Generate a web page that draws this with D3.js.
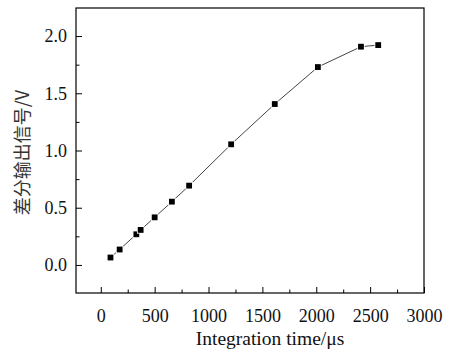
<!DOCTYPE html>
<html>
<head>
<meta charset="utf-8">
<script src="https://cdn.jsdelivr.net/npm/d3@7"></script>
<style>
  body { margin: 0; background: #fff; }
  svg text { font-family: "Liberation Serif", "Times New Roman", serif; fill: #111; }
</style>
</head>
<body>
<svg width="454" height="354"></svg>
<script>
// Data
const timeUs = [90, 175, 330, 370, 500, 660, 820, 1210, 1615, 2015, 2415, 2575];
const signalV = [0.065, 0.135, 0.268, 0.306, 0.416, 0.553, 0.693, 1.054, 1.406, 1.729, 1.907, 1.921];
const xTicks = [0, 500, 1000, 1500, 2000, 2500, 3000];
const yTicks = [0.0, 0.5, 1.0, 1.5, 2.0];

const svg = d3.select("svg");
const margin = { left: 76, right: 30, top: 8, bottom: 61 };
const W = 454, H = 354;

const x = d3.scaleLinear().domain([-230, 3000]).range([margin.left, W - margin.right]);
const y = d3.scaleLinear().domain([-0.245, 2.245]).range([H - margin.bottom, margin.top]);

// frame
svg.append("rect")
    .attr("x", x.range()[0]).attr("y", y.range()[1])
    .attr("width", x.range()[1] - x.range()[0])
    .attr("height", y.range()[0] - y.range()[1])
    .attr("fill", "none").attr("stroke", "#000").attr("stroke-width", 1.2);

// minor ticks
const xMinor = d3.range(250, 3000, 500);
const yMinor = [-0.25, 0.25, 0.75, 1.25, 1.75].filter(v => v > y.domain()[0]);

svg.append("g")
    .attr("transform", `translate(0,${y.range()[0]})`)
    .call(d3.axisBottom(x).tickValues(xMinor).tickSize(-3.5).tickFormat(""))
    .call(g => g.select(".domain").remove());
svg.append("g")
    .attr("transform", `translate(${x.range()[0]},0)`)
    .call(d3.axisLeft(y).tickValues(yMinor).tickSize(-3.5).tickFormat(""))
    .call(g => g.select(".domain").remove());

// major ticks
const gx = svg.append("g")
    .attr("transform", `translate(0,${y.range()[0]})`)
    .call(d3.axisBottom(x).tickValues(xTicks).tickSize(-6).tickPadding(16).tickFormat(d3.format("d")));
gx.select(".domain").remove();

const gy = svg.append("g")
    .attr("transform", `translate(${x.range()[0]},0)`)
    .call(d3.axisLeft(y).tickValues(yTicks).tickSize(-6).tickPadding(9).tickFormat(d3.format(".1f")));
gy.select(".domain").remove();

svg.selectAll("g").attr("font-family", null).attr("font-size", null);
svg.selectAll(".tick text")
    .attr("font-family", "Liberation Serif")
    .attr("font-size", 18)
    .attr("fill", "#111");

svg.selectAll(".tick line").attr("stroke", "#000").attr("stroke-width", 1);

// line
const pts = timeUs.map((t, i) => [t, signalV[i]]);
svg.append("path")
    .datum(pts)
    .attr("fill", "none")
    .attr("stroke", "#444")
    .attr("stroke-width", 1)
    .attr("d", d3.line().x(d => x(d[0])).y(d => y(d[1])));

// markers
const s = 5.8;
svg.selectAll("rect.pt")
    .data(pts)
    .join("rect")
    .attr("class", "pt")
    .attr("x", d => x(d[0]) - s / 2)
    .attr("y", d => y(d[1]) - s / 2)
    .attr("width", s).attr("height", s)
    .attr("fill", "#000")
    .attr("stroke", "#fff").attr("stroke-width", 1.6)
    .attr("paint-order", "stroke");

// axis titles
svg.append("text")
    .attr("x", 270)
    .attr("y", 345)
    .attr("text-anchor", "middle")
    .attr("font-size", 19.5)
    .text("Integration time/μs");

svg.append("text")
    .attr("transform", `translate(29,${(y.range()[0] + y.range()[1]) / 2 + 2}) rotate(-90)`)
    .attr("text-anchor", "middle")
    .attr("font-size", 18)
    .style("font-family", "'Noto Sans CJK SC', sans-serif")
    .style("fill", "#333")
    .text("差分输出信号/V");
</script>
</body>
</html>
